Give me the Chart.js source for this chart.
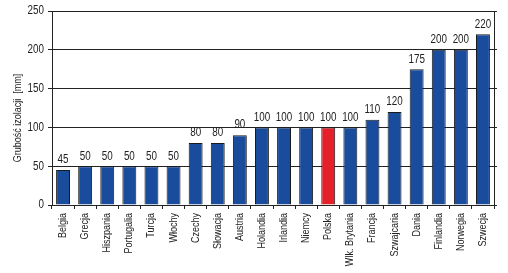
<!DOCTYPE html>
<html>
<head>
<meta charset="utf-8">
<script src="https://cdn.jsdelivr.net/npm/chart.js@4.4.1/dist/chart.umd.min.js"></script>
<style>
  html, body { margin: 0; padding: 0; background: #fff; }
  #wrap { width: 508px; height: 273px; position: relative; }
</style>
</head>
<body>
<div id="wrap"><canvas id="chart"></canvas></div>
<script>
// data
const countries = ["Belgia", "Grecja", "Hiszpania", "Portugalia", "Turcja", "Włochy", "Czechy", "Słowacja",
    "Austria", "Holandia", "Irlandia", "Niemcy", "Polska", "Wlk. Brytania", "Francja", "Szwajcaria",
    "Dania", "Finlandia", "Norwegia", "Szwecja"];
const thickness = [45, 50, 50, 50, 50, 50, 80, 80, 90, 100, 100, 100, 100, 100, 110, 120, 175, 200, 200, 220];
const highlight = "Polska";
const yTicks = [0, 50, 100, 150, 200, 250];
const yTitle = "Grubość izolacji  [mm]";

const FONT = "'Liberation Sans', Arial, sans-serif";
const NARROW = 0.82;   // the original uses a condensed face
const TEXT = "#222";
const BLUE = "#1a4c9e";
const RED = "#e6202a";

const barColors = countries.map(c => c === highlight ? RED : BLUE);

// condensed text: squeeze along the reading direction
function narrowText(ctx, text, x, y, rot, align, baseline, size) {
    ctx.save();
    ctx.translate(x, y);
    ctx.rotate(rot);
    ctx.scale(NARROW, 1);
    ctx.font = size + "px " + FONT;
    ctx.fillStyle = TEXT;
    ctx.textAlign = align;
    ctx.textBaseline = baseline;
    ctx.fillText(text, 0, 0);
    ctx.restore();
}

const narrowLabels = {
    id: "narrowLabels",
    afterDraw(chart) {
        const ctx = chart.ctx;
        const area = chart.chartArea;
        const xs = chart.scales.x;
        const ys = chart.scales.y;

        // values above bars
        chart.getDatasetMeta(0).data.forEach((bar, i) => {
            narrowText(ctx, String(thickness[i]), bar.x, bar.y - 4, 0, "center", "bottom", 12);
        });

        // category labels, rotated
        countries.forEach((c, i) => {
            const x = xs.getPixelForValue(i);
            narrowText(ctx, c, x, area.bottom + 8, -Math.PI / 2, "right", "middle", 11);
        });

        // y tick labels
        yTicks.forEach(v => {
            narrowText(ctx, String(v), area.left - 8, ys.getPixelForValue(v), 0, "right", "middle", 12);
        });

        // y title
        narrowText(ctx, yTitle, 18, (area.top + area.bottom) / 2 + 10, -Math.PI / 2, "center", "middle", 11);
    }
};

new Chart(document.getElementById("chart"), {
    type: "bar",
    data: {
        labels: countries,
        datasets: [{
            data: thickness,
            backgroundColor: barColors,
            borderColor: "#1a1a1a",
            borderWidth: 1,
            categoryPercentage: 1,
            barPercentage: 0.63
        }]
    },
    options: {
        responsive: true,
        maintainAspectRatio: false,
        animation: false,
        events: [],
        layout: { padding: { top: 11, right: 11, left: 0, bottom: 0 } },
        plugins: {
            legend: { display: false },
            tooltip: { enabled: false }
        },
        scales: {
            x: {
                grid: {
                    offset: true,
                    drawOnChartArea: false,
                    drawTicks: true,
                    tickLength: 4,
                    color: TEXT
                },
                border: { color: TEXT, width: 1 },
                ticks: { display: false },
                afterFit(scale) { scale.height = 68; }
            },
            y: {
                min: 0,
                max: 250,
                afterBuildTicks(scale) { scale.ticks = yTicks.map(v => ({ value: v })); },
                grid: {
                    color: TEXT,
                    lineWidth: 1,
                    tickLength: 4,
                    drawTicks: true
                },
                border: { color: TEXT, width: 1 },
                ticks: { display: false },
                afterFit(scale) { scale.width = 52; }
            },
            yRight: {
                position: "right",
                min: 0,
                max: 250,
                afterBuildTicks(scale) { scale.ticks = yTicks.map(v => ({ value: v })); },
                grid: { drawOnChartArea: false, tickLength: 3, color: TEXT },
                border: { color: TEXT, width: 1 },
                ticks: { display: false },
                afterFit(scale) { scale.width = 3; }
            }
        }
    },
    plugins: [narrowLabels]
});
</script>
</body>
</html>
